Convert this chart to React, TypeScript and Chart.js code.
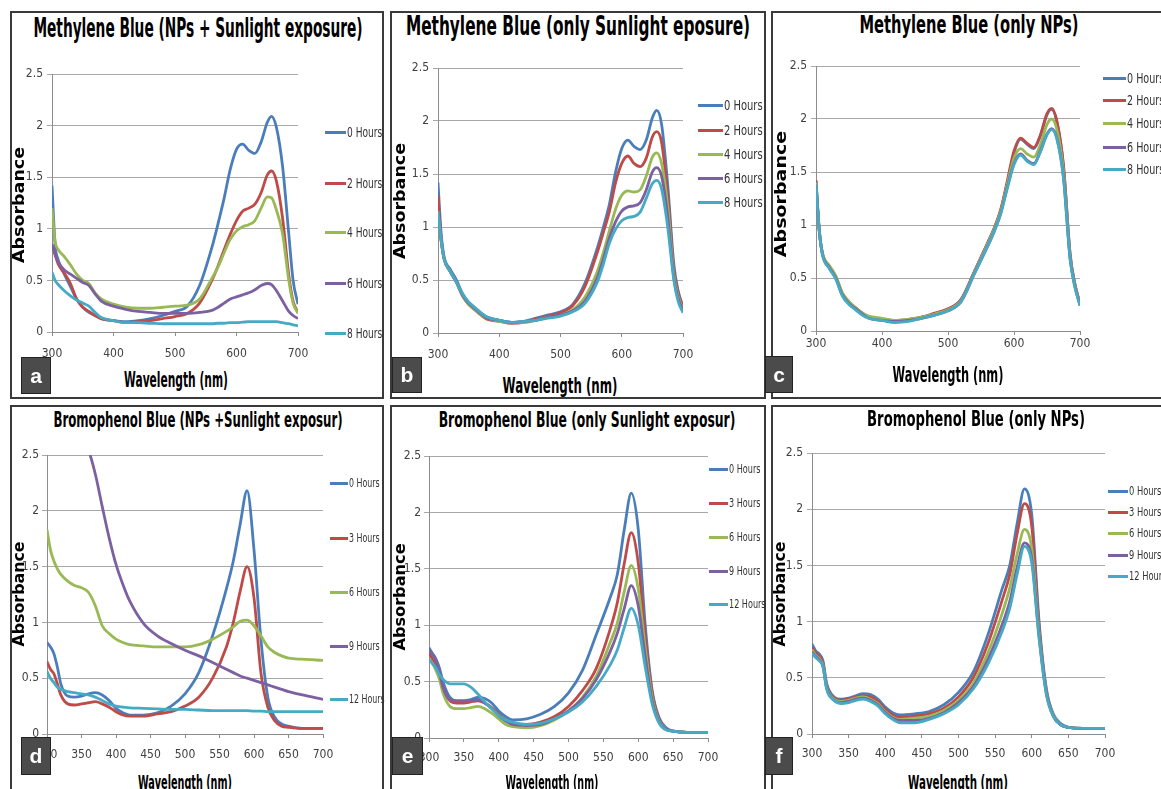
import React, { useEffect, useLayoutEffect, useRef, useState } from 'react';
import { Chart, registerables } from 'chart.js';
Chart.register(...registerables);

// ---------- data ----------
const WL_MB = [300, 305, 310, 320, 330, 340, 350, 360, 370, 380, 400, 420, 440, 460, 480, 500, 520, 540, 560, 570, 580, 590, 600, 610, 620, 630, 640, 650, 657, 665, 675, 685, 692, 700];
const WL_BB = [300, 305, 310, 315, 320, 330, 340, 350, 360, 370, 380, 390, 400, 410, 420, 440, 460, 480, 500, 520, 540, 560, 570, 580, 590, 600, 610, 620, 630, 640, 650, 670, 700];

const HOURS_MB = ['0 Hours', '2 Hours', '4 Hours', '6 Hours', '8 Hours'];
const HOURS_BB = ['0 Hours', '3 Hours', '6 Hours', '9 Hours', '12 Hours'];

const X_TICKS_MB = [300, 400, 500, 600, 700];
const X_TICKS_BB = [300, 350, 400, 450, 500, 550, 600, 650, 700];
const Y_TICKS = [0, 0.5, 1, 1.5, 2, 2.5];

// (a) Methylene Blue, NPs + sunlight
const A_0H = [1.42, 0.85, 0.70, 0.56, 0.44, 0.32, 0.24, 0.19, 0.16, 0.13, 0.11, 0.10, 0.11, 0.13, 0.16, 0.20, 0.25, 0.45, 0.82, 1.05, 1.30, 1.58, 1.77, 1.82, 1.76, 1.73, 1.84, 2.03, 2.09, 1.98, 1.60, 0.95, 0.50, 0.27];
const A_2H = [0.85, 0.75, 0.66, 0.57, 0.47, 0.32, 0.24, 0.20, 0.16, 0.13, 0.11, 0.09, 0.10, 0.11, 0.13, 0.15, 0.18, 0.28, 0.50, 0.64, 0.80, 0.95, 1.08, 1.17, 1.20, 1.24, 1.35, 1.52, 1.56, 1.46, 1.10, 0.55, 0.30, 0.19];
const A_4H = [1.20, 0.88, 0.80, 0.73, 0.65, 0.56, 0.50, 0.47, 0.38, 0.32, 0.27, 0.24, 0.23, 0.23, 0.24, 0.25, 0.26, 0.32, 0.52, 0.63, 0.77, 0.90, 0.98, 1.02, 1.04, 1.08, 1.20, 1.31, 1.30, 1.18, 0.95, 0.50, 0.28, 0.18];
const A_6H = [0.85, 0.75, 0.68, 0.60, 0.56, 0.52, 0.48, 0.45, 0.37, 0.30, 0.25, 0.22, 0.20, 0.19, 0.18, 0.18, 0.18, 0.19, 0.21, 0.24, 0.28, 0.32, 0.34, 0.36, 0.38, 0.41, 0.45, 0.47, 0.46, 0.40, 0.30, 0.20, 0.16, 0.13];
const A_8H = [0.58, 0.50, 0.46, 0.40, 0.35, 0.31, 0.28, 0.25, 0.19, 0.14, 0.11, 0.09, 0.09, 0.085, 0.08, 0.08, 0.08, 0.08, 0.08, 0.085, 0.085, 0.09, 0.09, 0.095, 0.10, 0.10, 0.10, 0.10, 0.10, 0.10, 0.09, 0.08, 0.07, 0.06];

// (b) Methylene Blue, only sunlight
const B_0H = [1.42, 0.95, 0.72, 0.60, 0.50, 0.37, 0.29, 0.24, 0.19, 0.15, 0.12, 0.10, 0.11, 0.14, 0.17, 0.20, 0.27, 0.47, 0.80, 1.00, 1.22, 1.52, 1.74, 1.82, 1.76, 1.73, 1.82, 2.03, 2.10, 1.97, 1.40, 0.65, 0.40, 0.25];
const B_2H = [1.30, 0.90, 0.70, 0.58, 0.48, 0.35, 0.27, 0.22, 0.17, 0.13, 0.11, 0.09, 0.10, 0.13, 0.16, 0.19, 0.26, 0.44, 0.76, 0.95, 1.15, 1.42, 1.60, 1.67, 1.60, 1.57, 1.65, 1.85, 1.90, 1.80, 1.30, 0.60, 0.38, 0.24];
const B_4H = [1.15, 0.88, 0.70, 0.58, 0.48, 0.35, 0.27, 0.22, 0.17, 0.14, 0.11, 0.10, 0.10, 0.12, 0.15, 0.17, 0.22, 0.34, 0.58, 0.76, 0.97, 1.17, 1.30, 1.34, 1.33, 1.35, 1.48, 1.66, 1.70, 1.60, 1.20, 0.55, 0.35, 0.22];
const B_6H = [1.15, 0.88, 0.70, 0.58, 0.48, 0.36, 0.28, 0.23, 0.18, 0.14, 0.12, 0.10, 0.11, 0.12, 0.15, 0.17, 0.21, 0.30, 0.52, 0.70, 0.90, 1.05, 1.15, 1.19, 1.20, 1.23, 1.35, 1.52, 1.56, 1.48, 1.10, 0.52, 0.33, 0.21];
const B_8H = [1.15, 0.88, 0.70, 0.58, 0.48, 0.37, 0.29, 0.24, 0.19, 0.15, 0.12, 0.10, 0.11, 0.12, 0.14, 0.16, 0.20, 0.28, 0.48, 0.65, 0.85, 0.98, 1.06, 1.09, 1.10, 1.14, 1.27, 1.41, 1.44, 1.36, 1.00, 0.50, 0.30, 0.19];

// (c) Methylene Blue, only NPs
const C_0H = [1.42, 0.95, 0.72, 0.60, 0.50, 0.34, 0.26, 0.21, 0.17, 0.13, 0.11, 0.09, 0.10, 0.13, 0.16, 0.20, 0.30, 0.56, 0.83, 0.97, 1.14, 1.40, 1.68, 1.81, 1.76, 1.72, 1.84, 2.04, 2.09, 1.97, 1.55, 0.72, 0.45, 0.25];
const C_2H = [1.42, 0.95, 0.73, 0.61, 0.51, 0.35, 0.27, 0.22, 0.17, 0.13, 0.11, 0.10, 0.11, 0.13, 0.17, 0.21, 0.30, 0.56, 0.83, 0.97, 1.15, 1.42, 1.70, 1.82, 1.77, 1.73, 1.85, 2.05, 2.10, 1.98, 1.56, 0.73, 0.45, 0.26];
const C_4H = [1.40, 0.95, 0.73, 0.62, 0.52, 0.36, 0.28, 0.22, 0.17, 0.14, 0.12, 0.10, 0.11, 0.13, 0.16, 0.20, 0.29, 0.55, 0.82, 0.96, 1.13, 1.39, 1.63, 1.72, 1.67, 1.64, 1.76, 1.95, 2.00, 1.90, 1.50, 0.70, 0.44, 0.25];
const C_6H = [1.38, 0.94, 0.72, 0.60, 0.50, 0.34, 0.26, 0.21, 0.16, 0.12, 0.10, 0.09, 0.10, 0.12, 0.15, 0.19, 0.28, 0.54, 0.80, 0.94, 1.11, 1.36, 1.58, 1.67, 1.61, 1.58, 1.70, 1.86, 1.91, 1.82, 1.45, 0.68, 0.43, 0.24];
const C_8H = [1.38, 0.94, 0.71, 0.59, 0.49, 0.33, 0.25, 0.20, 0.15, 0.12, 0.10, 0.08, 0.09, 0.12, 0.15, 0.19, 0.28, 0.54, 0.80, 0.94, 1.11, 1.35, 1.57, 1.66, 1.60, 1.57, 1.69, 1.85, 1.90, 1.81, 1.44, 0.68, 0.42, 0.24];

// (d) Bromophenol Blue, NPs + sunlight
const D_0H = [0.82, 0.78, 0.72, 0.60, 0.45, 0.34, 0.33, 0.34, 0.36, 0.37, 0.35, 0.30, 0.23, 0.19, 0.17, 0.17, 0.19, 0.25, 0.36, 0.55, 0.88, 1.30, 1.55, 1.88, 2.18, 1.65, 0.85, 0.33, 0.15, 0.09, 0.07, 0.05, 0.05];
const D_3H = [0.65, 0.58, 0.54, 0.45, 0.35, 0.27, 0.26, 0.27, 0.28, 0.29, 0.27, 0.24, 0.20, 0.17, 0.16, 0.16, 0.18, 0.20, 0.25, 0.33, 0.50, 0.78, 1.00, 1.28, 1.50, 1.22, 0.55, 0.24, 0.12, 0.07, 0.06, 0.05, 0.05];
const D_6H = [1.83, 1.65, 1.55, 1.48, 1.43, 1.37, 1.33, 1.31, 1.27, 1.15, 0.97, 0.90, 0.85, 0.82, 0.80, 0.79, 0.78, 0.78, 0.78, 0.80, 0.85, 0.92, 0.96, 1.01, 1.02, 0.97, 0.88, 0.78, 0.73, 0.70, 0.68, 0.67, 0.66];
const D_9H = [4.20, 3.95, 3.75, 3.55, 3.40, 3.10, 2.90, 2.70, 2.55, 2.33, 2.04, 1.76, 1.52, 1.34, 1.19, 0.99, 0.88, 0.81, 0.75, 0.70, 0.64, 0.58, 0.55, 0.52, 0.50, 0.48, 0.46, 0.44, 0.42, 0.40, 0.38, 0.35, 0.31];
const D_12H = [0.56, 0.50, 0.46, 0.42, 0.40, 0.38, 0.37, 0.36, 0.35, 0.33, 0.30, 0.27, 0.25, 0.24, 0.235, 0.23, 0.225, 0.22, 0.22, 0.215, 0.21, 0.21, 0.21, 0.21, 0.21, 0.205, 0.205, 0.20, 0.20, 0.20, 0.20, 0.20, 0.20];

// (e) Bromophenol Blue, only sunlight
const E_0H = [0.80, 0.75, 0.70, 0.62, 0.50, 0.36, 0.33, 0.33, 0.34, 0.36, 0.35, 0.31, 0.24, 0.19, 0.16, 0.17, 0.21, 0.28, 0.40, 0.60, 0.92, 1.25, 1.45, 1.85, 2.17, 1.85, 1.00, 0.42, 0.18, 0.09, 0.06, 0.05, 0.05];
const E_3H = [0.75, 0.70, 0.65, 0.57, 0.45, 0.33, 0.31, 0.31, 0.32, 0.33, 0.31, 0.27, 0.21, 0.16, 0.13, 0.12, 0.14, 0.19, 0.28, 0.42, 0.62, 0.97, 1.20, 1.55, 1.82, 1.55, 0.90, 0.40, 0.16, 0.08, 0.06, 0.05, 0.05];
const E_6H = [0.70, 0.66, 0.60, 0.52, 0.40, 0.28, 0.26, 0.26, 0.27, 0.28, 0.26, 0.22, 0.17, 0.12, 0.10, 0.09, 0.11, 0.16, 0.24, 0.36, 0.55, 0.85, 1.02, 1.30, 1.53, 1.32, 0.80, 0.36, 0.15, 0.08, 0.06, 0.05, 0.05];
const E_9H = [0.78, 0.74, 0.69, 0.58, 0.45, 0.34, 0.33, 0.33, 0.33, 0.34, 0.31, 0.26, 0.20, 0.15, 0.12, 0.11, 0.12, 0.17, 0.24, 0.35, 0.52, 0.77, 0.93, 1.15, 1.35, 1.17, 0.72, 0.33, 0.14, 0.08, 0.06, 0.05, 0.05];
const E_12H = [0.70, 0.66, 0.62, 0.56, 0.52, 0.48, 0.48, 0.48, 0.45, 0.39, 0.32, 0.26, 0.20, 0.16, 0.14, 0.12, 0.13, 0.17, 0.23, 0.32, 0.46, 0.65, 0.78, 0.98, 1.15, 1.00, 0.63, 0.30, 0.13, 0.07, 0.06, 0.05, 0.05];

// (f) Bromophenol Blue, only NPs
const F_0H = [0.80, 0.74, 0.71, 0.65, 0.45, 0.33, 0.31, 0.32, 0.34, 0.36, 0.35, 0.31, 0.24, 0.19, 0.17, 0.18, 0.20, 0.26, 0.37, 0.55, 0.88, 1.30, 1.50, 1.87, 2.18, 1.95, 1.00, 0.40, 0.17, 0.09, 0.06, 0.05, 0.05];
const F_3H = [0.77, 0.72, 0.69, 0.63, 0.43, 0.32, 0.30, 0.31, 0.33, 0.34, 0.33, 0.29, 0.22, 0.17, 0.15, 0.16, 0.18, 0.23, 0.33, 0.50, 0.80, 1.20, 1.42, 1.78, 2.05, 1.85, 0.95, 0.38, 0.16, 0.08, 0.06, 0.05, 0.05];
const F_6H = [0.75, 0.70, 0.67, 0.61, 0.42, 0.31, 0.29, 0.30, 0.32, 0.33, 0.31, 0.27, 0.20, 0.15, 0.13, 0.14, 0.16, 0.21, 0.30, 0.45, 0.72, 1.08, 1.30, 1.60, 1.82, 1.65, 0.90, 0.37, 0.16, 0.08, 0.06, 0.05, 0.05];
const F_9H = [0.73, 0.69, 0.66, 0.60, 0.41, 0.30, 0.28, 0.29, 0.31, 0.32, 0.30, 0.26, 0.19, 0.14, 0.12, 0.12, 0.14, 0.19, 0.28, 0.42, 0.66, 0.98, 1.18, 1.48, 1.70, 1.56, 0.87, 0.36, 0.15, 0.08, 0.06, 0.05, 0.05];
const F_12H = [0.72, 0.68, 0.65, 0.60, 0.40, 0.30, 0.27, 0.28, 0.30, 0.31, 0.29, 0.25, 0.18, 0.13, 0.10, 0.10, 0.13, 0.18, 0.26, 0.40, 0.62, 0.92, 1.12, 1.42, 1.67, 1.52, 0.85, 0.35, 0.15, 0.08, 0.06, 0.05, 0.05];

// ---------- style / layout ----------
const COLORS = ['#4A7EBB', '#BE4B48', '#98B954', '#7D60A0', '#46AAC5'];
const NARROW = '"Liberation Sans Narrow", "Arial Narrow", "DejaVu Sans Condensed", sans-serif';
const WIDE = '"DejaVu Sans", "Liberation Sans", sans-serif';

const PANELS = [
  {
    key: 'a', title: 'Methylene Blue (NPs + Sunlight exposure)', wl: WL_MB, series: [A_0H, A_2H, A_4H, A_6H, A_8H], names: HOURS_MB, xTicks: X_TICKS_MB,
    plot: { l: 52, t: 74, r: 298, b: 332 }, xPad: 11, yPad: 4,
    box: { l: 10, t: 11, w: 374, h: 388 },
    ttl: { cx: 197.5, cy: 28, w: 329, size: 26 },
    abs: { cx: 19, cy: 205, w: 116 },
    wav: { cx: 176, cy: 380, w: 104, size: 21 },
    tag: { l: 21, t: 357, w: 30, h: 37 },
    leg: { x1: 325, x2: 346, size: 14, sx: 0.72, ys: [132, 183, 232, 283, 333] },
  },
  {
    key: 'b', title: 'Methylene Blue (only Sunlight eposure)', wl: WL_MB, series: [B_0H, B_2H, B_4H, B_6H, B_8H], names: HOURS_MB, xTicks: X_TICKS_MB,
    plot: { l: 438, t: 68, r: 683, b: 333 }, xPad: 11, yPad: 4,
    box: { l: 390, t: 11, w: 376, h: 388 },
    ttl: { cx: 578, cy: 25.5, w: 344, size: 26 },
    abs: { cx: 400, cy: 201, w: 116 },
    wav: { cx: 559.5, cy: 386, w: 115, size: 21 },
    tag: { l: 392, t: 357, w: 30, h: 36 },
    leg: { x1: 698, x2: 723, size: 14, sx: 0.79, ys: [105, 130, 154, 178, 202] },
  },
  {
    key: 'c', title: 'Methylene Blue (only NPs)', wl: WL_MB, series: [C_0H, C_2H, C_4H, C_6H, C_8H], names: HOURS_MB, xTicks: X_TICKS_MB,
    plot: { l: 816, t: 66, r: 1080, b: 331 }, xPad: 2, yPad: 4,
    box: { l: 771, t: 11, w: 420, h: 388 },
    ttl: { cx: 968.5, cy: 24.5, w: 219, size: 24 },
    abs: { cx: 781, cy: 194, w: 126 },
    wav: { cx: 947.5, cy: 374.5, w: 111, size: 21 },
    tag: { l: 765, t: 356, w: 28, h: 37 },
    leg: { x1: 1103, x2: 1126, size: 14, sx: 0.76, ys: [78, 100, 123, 147, 169] },
  },
  {
    key: 'd', title: 'Bromophenol Blue (NPs +Sunlight exposur)', wl: WL_BB, series: [D_0H, D_3H, D_6H, D_9H, D_12H], names: HOURS_BB, xTicks: X_TICKS_BB,
    plot: { l: 47, t: 455, r: 323, b: 734 }, xPad: 10, yPad: 3,
    box: { l: 10, t: 405, w: 374, h: 420 },
    ttl: { cx: 197.5, cy: 420, w: 289, size: 22 },
    abs: { cx: 19, cy: 594, w: 105 },
    wav: { cx: 185, cy: 782, w: 94, size: 20 },
    tag: { l: 21, t: 737, w: 30, h: 38 },
    leg: { x1: 330, x2: 348, size: 12.5, sx: 0.7, ys: [483, 538, 592, 646, 699] },
  },
  {
    key: 'e', title: 'Bromophenol Blue (only Sunlight exposur)', wl: WL_BB, series: [E_0H, E_3H, E_6H, E_9H, E_12H], names: HOURS_BB, xTicks: X_TICKS_BB,
    plot: { l: 429, t: 456, r: 708, b: 738 }, xPad: 9, yPad: 3,
    box: { l: 390, t: 405, w: 376, h: 420 },
    ttl: { cx: 586.5, cy: 420, w: 297, size: 22 },
    abs: { cx: 400, cy: 597, w: 107 },
    wav: { cx: 551.5, cy: 782, w: 93, size: 20 },
    tag: { l: 392, t: 737, w: 31, h: 38 },
    leg: { x1: 709, x2: 728, size: 12.5, sx: 0.72, ys: [469, 503, 537, 571, 604] },
  },
  {
    key: 'f', title: 'Bromophenol Blue (only NPs)', wl: WL_BB, series: [F_0H, F_3H, F_6H, F_9H, F_12H], names: HOURS_BB, xTicks: X_TICKS_BB,
    plot: { l: 812, t: 453, r: 1105, b: 734 }, xPad: 9, yPad: 4,
    box: { l: 771, t: 405, w: 420, h: 420 },
    ttl: { cx: 976, cy: 418.5, w: 218, size: 22 },
    abs: { cx: 780, cy: 594, w: 105 },
    wav: { cx: 958, cy: 782, w: 100, size: 20 },
    tag: { l: 765, t: 737, w: 28, h: 38 },
    leg: { x1: 1108, x2: 1128, size: 12.5, sx: 0.74, ys: [491, 512, 533, 555, 576] },
  },
];

// ---------- components ----------
type TxtProps = {
  t: string; x: number; y: number; w?: number; size: number; bold?: boolean; fam: string;
  color?: string; rot?: boolean; start?: boolean; sx?: number;
};
function Txt({ t, x, y, w, size, bold, fam, color = '#000', rot = false, start = false, sx = 1 }: TxtProps) {
  const ref = useRef<HTMLSpanElement>(null);
  const [k, setK] = useState(sx);
  useLayoutEffect(() => {
    if (w && ref.current) {
      const nat = ref.current.offsetWidth;
      if (nat > 0) setK(w / nat);
    }
  }, [t, w, size]);
  const style: React.CSSProperties = {
    position: 'absolute', left: x, top: y, whiteSpace: 'nowrap', fontSize: size, lineHeight: `${size}px`,
    fontWeight: bold ? 'bold' : 'normal', fontFamily: fam, color,
    transformOrigin: start ? '0 50%' : '50% 50%',
    transform: start ? `translateY(-50%) scale(${k},1)` : `translate(-50%,-50%) ${rot ? 'rotate(-90deg) ' : ''}scale(${k},1)`,
  };
  return <span ref={ref} style={style}>{t}</span>;
}

const YW = 46, PT = 12, PR = 32, XH = 34;

function SpectrumChart({ p }: { p: any }) {
  const ref = useRef<HTMLCanvasElement>(null);
  const w = p.plot.r - p.plot.l + YW + PR;
  const h = p.plot.b - p.plot.t + PT + XH;
  useEffect(() => {
    const tickFont = { family: NARROW, size: 12 };
    const chart = new Chart(ref.current as HTMLCanvasElement, {
      type: 'line',
      data: {
        datasets: p.series.map((s: number[], i: number) => ({
          label: p.names[i],
          data: p.wl.map((x: number, j: number) => ({ x, y: s[j] })),
          borderColor: COLORS[i], backgroundColor: COLORS[i], borderWidth: 2.8,
          pointRadius: 0, cubicInterpolationMode: 'monotone', fill: false, order: 10 - i,
        })),
      },
      options: {
        responsive: false, animation: false, devicePixelRatio: 1, events: [],
        layout: { padding: { left: 0, top: PT, right: PR, bottom: 0 } },
        plugins: { legend: { display: false }, title: { display: false }, tooltip: { enabled: false } },
        scales: {
          x: {
            type: 'linear', min: 300, max: 700,
            afterFit: (s: any) => { s.height = XH; },
            afterBuildTicks: (s: any) => { s.ticks = p.xTicks.map((v: number) => ({ value: v })); },
            ticks: { font: tickFont, color: '#404040', padding: p.xPad, maxRotation: 0, autoSkip: false, callback: (v: any) => String(v) },
            grid: { drawOnChartArea: false, drawTicks: true, tickLength: 4, color: '#8c8c8c' },
            border: { display: true, color: '#8c8c8c', width: 1 },
          },
          y: {
            type: 'linear', min: 0, max: 2.5,
            afterFit: (s: any) => { s.width = YW; },
            afterBuildTicks: (s: any) => { s.ticks = Y_TICKS.map((v) => ({ value: v })); },
            ticks: { font: tickFont, color: '#404040', padding: p.yPad, callback: (v: any) => String(v) },
            grid: { color: '#a8a8a8', tickLength: 5, lineWidth: 1 },
            border: { display: true, color: '#8c8c8c', width: 1 },
          },
        },
      } as any,
    });
    return () => chart.destroy();
  }, []);
  return (
    <canvas ref={ref} width={w} height={h}
      style={{ position: 'absolute', left: p.plot.l - YW, top: p.plot.t - PT, width: w, height: h }} />
  );
}

export default function App() {
  useEffect(() => { document.body.style.margin = '0'; }, []);
  return (
    <div style={{ position: 'absolute', left: 0, top: 0, width: 1161, height: 789, overflow: 'hidden', background: '#fff' }}>
      {PANELS.map((p) => (
        <div key={p.key + '-box'} style={{
          position: 'absolute', left: p.box.l, top: p.box.t, width: p.box.w, height: p.box.h,
          border: '2px solid #3a3a3a', boxSizing: 'border-box',
        }} />
      ))}
      {PANELS.map((p) => <SpectrumChart key={p.key} p={p} />)}
      {PANELS.map((p) => (
        <React.Fragment key={p.key + '-txt'}>
          <Txt t={p.title} x={p.ttl.cx} y={p.ttl.cy} w={p.ttl.w} size={p.ttl.size} bold fam={NARROW} />
          <Txt t="Absorbance" x={p.abs.cx} y={p.abs.cy} w={p.abs.w} size={16} bold fam={WIDE} rot />
          <Txt t="Wavelength (nm)" x={p.wav.cx} y={p.wav.cy} w={p.wav.w} size={p.wav.size} bold fam={NARROW} />
          {p.names.map((n: string, i: number) => (
            <React.Fragment key={n}>
              <div style={{
                position: 'absolute', left: p.leg.x1, top: p.leg.ys[i] - 1.5, width: p.leg.x2 - p.leg.x1, height: 3,
                background: COLORS[i],
              }} />
              <Txt t={n} x={p.leg.x2 + 1} y={p.leg.ys[i]} size={p.leg.size} fam={NARROW} color="#333" start sx={p.leg.sx} />
            </React.Fragment>
          ))}
          <div style={{
            position: 'absolute', left: p.tag.l, top: p.tag.t, width: p.tag.w, height: p.tag.h,
            background: '#4b4b4b', border: '1px solid #222', boxSizing: 'border-box',
          }}>
            <Txt t={p.key} x={p.tag.w / 2 - 1} y={p.tag.h / 2 - 2} size={21} bold fam='"Liberation Sans", Arial, sans-serif' color="#fff" />
          </div>
        </React.Fragment>
      ))}
    </div>
  );
}
